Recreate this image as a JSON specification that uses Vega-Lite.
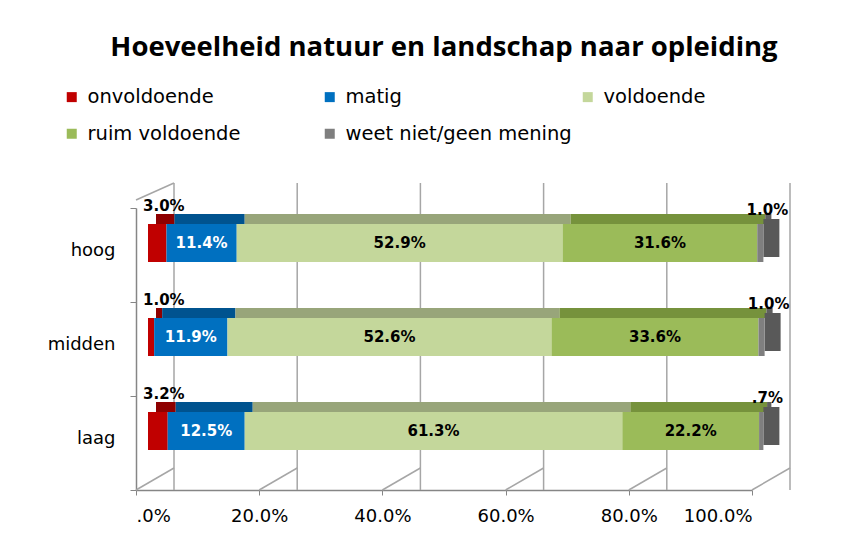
{
  "$schema": "https://vega.github.io/schema/vega-lite/v6.json",
  "autosize": {"type": "none"},
  "padding": {"left": 136, "top": 208, "right": 105, "bottom": 45},
  "width": 616,
  "height": 282,
  "background": "white",
  "title": {
    "text": "Hoeveelheid natuur en landschap naar opleiding",
    "font": "Open Sans",
    "fontSize": 27.5,
    "fontWeight": "bold",
    "color": "#000000",
    "anchor": "middle",
    "offset": 26
  },
  "data": {
    "values": [
      {"c": "hoog", "s": "onvoldoende", "v": 3.0, "l": "3.0%"},
      {"c": "hoog", "s": "matig", "v": 11.4, "l": "11.4%"},
      {"c": "hoog", "s": "voldoende", "v": 52.9, "l": "52.9%"},
      {"c": "hoog", "s": "ruim voldoende", "v": 31.6, "l": "31.6%"},
      {"c": "hoog", "s": "weet niet/geen mening", "v": 1.0, "l": "1.0%"},
      {"c": "midden", "s": "onvoldoende", "v": 1.0, "l": "1.0%"},
      {"c": "midden", "s": "matig", "v": 11.9, "l": "11.9%"},
      {"c": "midden", "s": "voldoende", "v": 52.6, "l": "52.6%"},
      {"c": "midden", "s": "ruim voldoende", "v": 33.6, "l": "33.6%"},
      {"c": "midden", "s": "weet niet/geen mening", "v": 1.0, "l": "1.0%"},
      {"c": "laag", "s": "onvoldoende", "v": 3.2, "l": "3.2%"},
      {"c": "laag", "s": "matig", "v": 12.5, "l": "12.5%"},
      {"c": "laag", "s": "voldoende", "v": 61.3, "l": "61.3%"},
      {"c": "laag", "s": "ruim voldoende", "v": 22.2, "l": "22.2%"},
      {"c": "laag", "s": "weet niet/geen mening", "v": 0.7, "l": ".7%"}
    ]
  },
  "transform": [
    {"calculate": "indexof(['onvoldoende','matig','voldoende','ruim voldoende','weet niet/geen mening'], datum.s)", "as": "k"},
    {"stack": "v", "groupby": ["c"], "sort": [{"field": "k", "order": "ascending"}], "as": ["x0", "x1"]},
    {"calculate": "(datum.x0 + datum.x1) / 2", "as": "mid"}
  ],
  "layer": [
    {
      "data": {"values": [{"g": 0}, {"g": 20}, {"g": 40}, {"g": 60}, {"g": 80}, {"g": 100}]},
      "transform": [],
      "mark": {"type": "rule", "color": "#A6A6A6", "strokeWidth": 1.5, "xOffset": 38, "yOffset": -25, "y2Offset": -22},
      "encoding": {
        "x": {"field": "g", "type": "quantitative"}
      }
    },
    {
      "data": {"values": [{"g": 0}, {"g": 20}, {"g": 40}, {"g": 60}, {"g": 80}, {"g": 100}]},
      "transform": [],
      "mark": {"type": "rule", "color": "#A6A6A6", "strokeWidth": 1.5, "x2Offset": 38, "y2Offset": -22},
      "encoding": {
        "x": {"field": "g", "type": "quantitative"},
        "x2": {"field": "g"},
        "y": {"datum": "laag", "type": "nominal", "bandPosition": 1},
        "y2": {"datum": "laag", "bandPosition": 1}
      }
    },
    {
      "data": {"values": [{"g": 0}]},
      "transform": [],
      "mark": {"type": "rule", "color": "#A6A6A6", "strokeWidth": 1.5, "x2Offset": 38, "yOffset": -8, "y2Offset": -25},
      "encoding": {
        "x": {"field": "g", "type": "quantitative"},
        "x2": {"field": "g"},
        "y": {"datum": "hoog", "type": "nominal", "bandPosition": 0},
        "y2": {"datum": "hoog", "bandPosition": 0}
      }
    },
    {
      "mark": {"type": "bar", "size": 10, "yOffset": -36, "xOffset": 20, "x2Offset": 20},
      "encoding": {
        "x": {"field": "x0", "type": "quantitative"},
        "x2": {"field": "x1"},
        "y": {"field": "c", "type": "nominal"},
        "color": {
          "condition": [
            {"test": "datum.k === 0", "value": "#8E0000"},
            {"test": "datum.k === 1", "value": "#00538F"},
            {"test": "datum.k === 2", "value": "#98A57A"},
            {"test": "datum.k === 3", "value": "#76923C"}
          ],
          "value": "#5F5F5F"
        }
      }
    },
    {
      "transform": [{"filter": "datum.k === 4"}],
      "mark": {"type": "bar", "size": 38, "yOffset": -17, "xOffset": 12, "x2Offset": 28, "color": "#595959"},
      "encoding": {
        "x": {"field": "x1", "type": "quantitative"},
        "x2": {"field": "x1"},
        "y": {"field": "c", "type": "nominal"}
      }
    },
    {
      "mark": {"type": "bar", "size": 38, "yOffset": -12, "xOffset": 12, "x2Offset": 12},
      "encoding": {
        "x": {
          "field": "x0",
          "type": "quantitative",
          "scale": {"domain": [0, 100], "nice": false},
          "axis": {
            "values": [0, 20, 40, 60, 80, 100],
            "labelExpr": "datum.value == 0 ? '.0%' : format(datum.value, '.1f') + '%'",
            "title": null,
            "grid": false,
            "domainColor": "#868686",
            "domainWidth": 1.5,
            "tickColor": "#868686",
            "tickSize": 5,
            "labelFont": "DejaVu Sans",
            "labelFontSize": 18,
            "labelColor": "#000000",
            "labelPadding": 12
          }
        },
        "x2": {"field": "x1"},
        "y": {
          "field": "c",
          "type": "nominal",
          "sort": ["hoog", "midden", "laag"],
          "scale": {"domain": ["hoog", "midden", "laag"]},
          "axis": {
            "title": null,
            "domainColor": "#868686",
            "domainWidth": 1.5,
            "tickColor": "#868686",
            "tickBand": "extent",
            "tickSize": 6,
            "tickOffset": -6,
            "labelOffset": -5,
            "labelFont": "DejaVu Sans",
            "labelFontSize": 18,
            "labelColor": "#000000",
            "labelPadding": 15
          }
        },
        "color": {
          "field": "s",
          "type": "nominal",
          "scale": {
            "domain": ["onvoldoende", "matig", "voldoende", "ruim voldoende", "weet niet/geen mening"],
            "range": ["#C00000", "#0070C0", "#C4D79B", "#9BBB59", "#7F7F7F"]
          },
          "legend": {
            "title": null,
            "orient": "none",
            "legendX": -74,
            "legendY": -121,
            "direction": "horizontal",
            "columns": 3,
            "gridAlign": "all",
            "columnPadding": 6,
            "rowPadding": 16,
            "symbolType": "square",
            "symbolSize": 100,
            "symbolStrokeWidth": 0,
            "symbolOffset": 0,
            "labelOffset": 6,
            "labelFont": "DejaVu Sans",
            "labelFontSize": 19.5,
            "labelColor": "#000000",
            "labelLimit": 400,
            "padding": 0
          }
        }
      }
    },
    {
      "transform": [{"filter": "datum.k >= 1 && datum.k <= 3"}],
      "mark": {"type": "text", "font": "DejaVu Sans", "fontWeight": "bold", "fontSize": 15, "xOffset": 12, "yOffset": -12, "baseline": "middle", "align": "center"},
      "encoding": {
        "x": {"field": "mid", "type": "quantitative"},
        "y": {"field": "c", "type": "nominal"},
        "text": {"field": "l"},
        "color": {"condition": {"test": "datum.k === 1", "value": "#FFFFFF"}, "value": "#000000"}
      }
    },
    {
      "transform": [{"filter": "datum.k === 0"}],
      "mark": {"type": "text", "font": "DejaVu Sans", "fontWeight": "bold", "fontSize": 15, "xOffset": 7, "yOffset": -49, "baseline": "middle", "align": "left", "color": "#000000"},
      "encoding": {
        "x": {"field": "x0", "type": "quantitative"},
        "y": {"field": "c", "type": "nominal"},
        "text": {"field": "l"}
      }
    },
    {
      "transform": [{"filter": "datum.k === 4"}],
      "mark": {"type": "text", "font": "DejaVu Sans", "fontWeight": "bold", "fontSize": 15, "xOffset": 16, "yOffset": -45, "baseline": "middle", "align": "center", "color": "#000000"},
      "encoding": {
        "x": {"field": "x1", "type": "quantitative"},
        "y": {"field": "c", "type": "nominal"},
        "text": {"field": "l"}
      }
    }
  ],
  "config": {"view": {"stroke": null}}
}
